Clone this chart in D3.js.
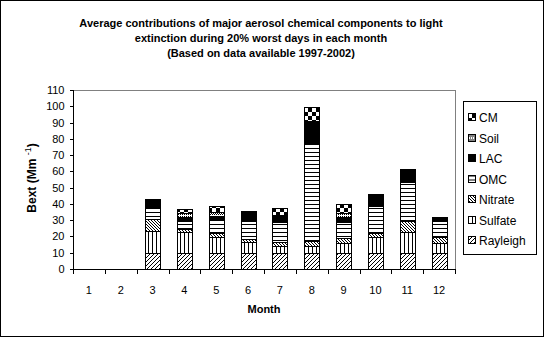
<!DOCTYPE html>
<html><head><meta charset="utf-8">
<script src="https://cdn.jsdelivr.net/npm/d3@7"></script>
<style>
html,body{margin:0;padding:0;background:#fff;}
svg{display:block;font-family:"Liberation Sans",Arial,sans-serif;}
</style></head>
<body><svg id="c" width="545" height="338"></svg>
<script>
const months = ["1","2","3","4","5","6","7","8","9","10","11","12"];
const seriesNames = ["Rayleigh","Sulfate","Nitrate","OMC","LAC","Soil","CM"];
const rayleigh = [0,0,10,10,10,10,10,10,10,10,10,10];
const sulfate  = [0,0,13.5,13,9.8,6.8,4.2,4.3,6.2,9.5,12.9,5.8];
const nitrate  = [0,0,7.5,1.7,2.4,1.5,2.5,2.9,2.7,2.8,6.6,3.6];
const omc      = [0,0,6.5,5,7.8,11,12.3,60,10.2,16.6,24.2,9.8];
const lac      = [0,0,5.5,2.5,2.7,5,4,14,3,7.2,7.8,2.9];
const soil     = [0,0,0,2,2.4,0.5,0.3,0,2.1,0,0,0];
const cm       = [0,0,0,2.7,3.5,0.7,4,8.4,5.8,0,0,0];
const yTicks = [0,10,20,30,40,50,60,70,80,90,100,110];
const titleLines = ["Average contributions of major aerosol chemical components to light",
  "extinction during 20% worst days in each month",
  "(Based on data available 1997-2002)"];
const legendOrder = ["CM","Soil","LAC","OMC","Nitrate","Sulfate","Rayleigh"];

const seriesData = {Rayleigh:rayleigh,Sulfate:sulfate,Nitrate:nitrate,OMC:omc,LAC:lac,Soil:soil,CM:cm};
const rows = months.map((m,i)=>{const r={month:m};seriesNames.forEach(s=>r[s]=seriesData[s][i]);return r;});

const svg = d3.select("#c");
const W=545,H=338;
const L=73,R=455,T=90,B=269;

// outer border
svg.append("rect").attr("x",0.5).attr("y",0.5).attr("width",W-2).attr("height",H-2)
  .attr("fill","#fff").attr("stroke","#000").attr("shape-rendering","crispEdges");

// patterns
const defs = svg.append("defs");
function pat(id,w,h,draw){
  const p = defs.append("pattern").attr("id",id).attr("patternUnits","userSpaceOnUse")
    .attr("width",w).attr("height",h);
  p.append("rect").attr("width",w).attr("height",h).attr("fill","#fff");
  draw(p);
}
pat("pRay",4,4,p=>{
  p.append("path").attr("d","M0,4L4,0M-1,1L1,-1M3,5L5,3").attr("stroke","#000").attr("stroke-width",1);
});
pat("pSul",4,4,p=>{
  p.append("rect").attr("x",0).attr("y",0).attr("width",1).attr("height",4).attr("fill","#000");
});
pat("pNit",3,3,p=>{
  p.append("path").attr("d","M0,0L3,3M-1,2L1,4M2,-1L4,1").attr("stroke","#000").attr("stroke-width",1);
});
pat("pOmc",4,4,p=>{
  p.append("rect").attr("x",0).attr("y",0).attr("width",4).attr("height",1).attr("fill","#000");
});
pat("pLac",4,4,p=>{
  p.select("rect").attr("fill","#000");
});
pat("pSoil",4,4,p=>{
  [[0,0],[2,0],[1,1],[3,1],[0,2],[2,2]].forEach(d=>p.append("rect").attr("x",d[0]).attr("y",d[1]).attr("width",1).attr("height",1).attr("fill","#000"));
});
pat("pCm",8,8,p=>{
  p.append("rect").attr("x",0).attr("y",0).attr("width",4).attr("height",4).attr("fill","#000");
  p.append("rect").attr("x",4).attr("y",4).attr("width",4).attr("height",4).attr("fill","#000");
});
const fills = {Rayleigh:"url(#pRay)",Sulfate:"url(#pSul)",Nitrate:"url(#pNit)",OMC:"url(#pOmc)",LAC:"url(#pLac)",Soil:"url(#pSoil)",CM:"url(#pCm)"};

// scales
const x = d3.scaleBand().domain(months).range([L,R]).paddingInner(0.53).paddingOuter(0.265);
const y = d3.scaleLinear().domain([0,110]).range([B,T]);

// plot area border (gray top/right)
svg.append("path").attr("d",`M${L},${T+0.5}H${R+0.5}V${B}`).attr("fill","none")
  .attr("stroke","#808080").attr("shape-rendering","crispEdges");

// bars
const stack = d3.stack().keys(seriesNames)(rows);
svg.append("g").selectAll("g").data(stack).join("g")
  .attr("fill",d=>fills[d.key])
  .selectAll("rect").data(d=>d.filter(v=>v[1]-v[0]>0)).join("rect")
  .attr("x",d=>Math.round(x(d.data.month))+0.5)
  .attr("width",Math.round(x.bandwidth()))
  .attr("y",d=>Math.round(y(d[1]))+0.5)
  .attr("height",d=>Math.round(y(d[0]))-Math.round(y(d[1])))
  .attr("stroke","#000").attr("stroke-width",1).attr("shape-rendering","crispEdges");

// y axis
const yAxis = d3.axisLeft(y).tickValues(yTicks).tickSize(4).tickPadding(5);
const gy = svg.append("g").attr("transform",`translate(${L+0.5},0)`).call(yAxis);
gy.select(".domain").attr("d",`M0,${B}V${T}`).attr("stroke","#000").attr("shape-rendering","crispEdges");
gy.selectAll(".tick line").attr("shape-rendering","crispEdges");
gy.selectAll("text").attr("font-size",11).attr("font-family","'Liberation Sans',Arial,sans-serif").attr("fill","#000");

// x axis
const step = x.step();
const gx = svg.append("g");
gx.append("line").attr("x1",L).attr("x2",R+1).attr("y1",B+0.5).attr("y2",B+0.5).attr("stroke","#000").attr("shape-rendering","crispEdges");
gx.selectAll("line.t").data(d3.range(months.length+1)).join("line").attr("class","t")
  .attr("x1",i=>Math.round(L+i*step)+0.5).attr("x2",i=>Math.round(L+i*step)+0.5)
  .attr("y1",B).attr("y2",B+5).attr("stroke","#000").attr("shape-rendering","crispEdges");
gx.selectAll("text").data(months).join("text")
  .attr("x",m=>x(m)+x.bandwidth()/2).attr("y",B+25)
  .attr("text-anchor","middle").attr("font-size",11).text(m=>m);

// axis titles
svg.append("text").attr("x",264).attr("y",313).attr("text-anchor","middle")
  .attr("font-size",11).attr("font-weight","bold").text("Month");
const yt = svg.append("text").attr("transform","translate(36,178) rotate(-90)")
  .attr("text-anchor","middle").attr("font-size",12).attr("font-weight","bold");
yt.append("tspan").text("Bext (Mm  ");
yt.append("tspan").attr("font-size",9).attr("font-weight","normal").attr("dy",-5).text("-1");
yt.append("tspan").attr("dy",5).text(")");

// title
svg.append("g").selectAll("text").data(titleLines).join("text")
  .attr("x",261).attr("y",(d,i)=>27+i*15).attr("text-anchor","middle")
  .attr("font-size",11).attr("font-weight","bold").text(d=>d);

// legend
const lg = svg.append("g");
lg.append("rect").attr("x",463.5).attr("y",101.5).attr("width",73).attr("height",153)
  .attr("fill","#fff").attr("stroke","#000").attr("shape-rendering","crispEdges");
const li = lg.selectAll("g").data(legendOrder).join("g")
  .attr("transform",(d,i)=>`translate(468,${118+i*20.5})`);
li.append("rect").attr("x",0.5).attr("y",-4.5).attr("width",7).attr("height",7)
  .attr("fill",d=>fills[d]).attr("stroke","#000").attr("shape-rendering","crispEdges");
li.append("text").attr("x",11).attr("y",4).attr("font-size",12).text(d=>d);
</script></body></html>
